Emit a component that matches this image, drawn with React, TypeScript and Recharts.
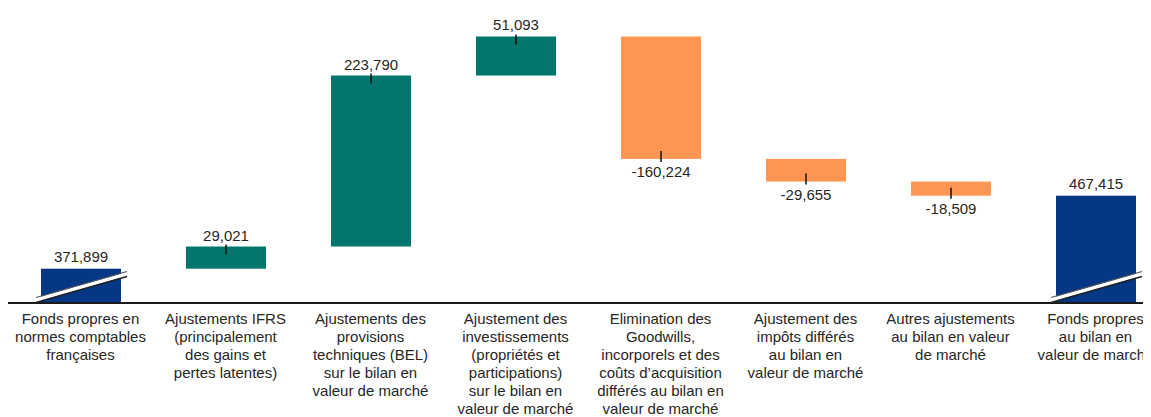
import React from "react";
import { BarChart, Bar, XAxis, YAxis } from "recharts";

// waterfall: totals (first/last) sit on a broken axis, the rest float
const categories = [
  "Fonds propres en\nnormes comptables\nfrançaises",
  "Ajustements IFRS\n(principalement\ndes gains et\npertes latentes)",
  "Ajustements des\nprovisions\ntechniques (BEL)\nsur le bilan en\nvaleur de marché",
  "Ajustement des\ninvestissements\n(propriétés et\nparticipations)\nsur le bilan en\nvaleur de marché",
  "Elimination des\nGoodwills,\nincorporels et des\ncoûts d’acquisition\ndifférés au bilan en\nvaleur de marché",
  "Ajustement des\nimpôts différés\nau bilan en\nvaleur de marché",
  "Autres ajustements\nau bilan en valeur\nde marché",
  "Fonds propres\nau bilan en\nvaleur de marché",
];
const values = [371899, 29021, 223790, 51093, -160224, -29655, -18509, 467415];
const kinds = ["total", "delta", "delta", "delta", "delta", "delta", "delta", "total"];

const AXIS_MIN = 327000;
const AXIS_MAX = 700000;

const COLORS = { total: "#053884", up: "#00766D", down: "#FF9652" };
const TEXT = "#262626";
const FONT = "Arial, 'Liberation Sans', sans-serif";

const fmt = (v: number) => v.toLocaleString("en-US");

let running = 0;
const data = categories.map((name, i) => {
  const v = values[i];
  let range: [number, number];
  if (kinds[i] === "total") {
    running = v;
    range = [AXIS_MIN, v];
  } else {
    const next = running + v;
    range = [Math.min(running, next), Math.max(running, next)];
    running = next;
  }
  return { name, range, value: v, kind: kinds[i] };
});

function StepShape(props: any) {
  const { x, y, width, height, payload } = props;
  const { kind, value } = payload;
  const top = y;
  const bottom = y + height;
  const cx = x + width / 2;
  const fill = kind === "total" ? COLORS.total : value >= 0 ? COLORS.up : COLORS.down;

  if (kind === "total") {
    // axis break slash near the base
    const x1 = x - 5;
    const x2 = x + width + 6;
    const y1 = bottom - 3;
    const y2 = bottom - 29;
    return (
      <g>
        <rect x={x} y={top} width={width} height={height} fill={fill} />
        <polygon
          points={`${x1},${y1 - 2} ${x2},${y2 - 2} ${x2},${y2 + 2} ${x1},${y1 + 2}`}
          fill="#fff"
        />
        <line x1={x1} y1={y1 - 2.5} x2={x2} y2={y2 - 2.5} stroke="#555" strokeWidth={1.2} />
        <line x1={x1} y1={y1 + 2.5} x2={x2} y2={y2 + 2.5} stroke="#222" strokeWidth={1.4} />
        <text x={cx} y={top - 7} textAnchor="middle" fontSize={15} fontFamily={FONT} fill={TEXT}>
          {fmt(value)}
        </text>
      </g>
    );
  }

  const up = value >= 0;
  return (
    <g>
      <rect x={x} y={top} width={width} height={height} fill={fill} />
      {up ? (
        <line x1={cx} y1={top - 2} x2={cx} y2={top + 8} stroke="#111" strokeWidth={1.5} />
      ) : (
        <line x1={cx} y1={bottom - 8} x2={cx} y2={bottom + 3} stroke="#111" strokeWidth={1.5} />
      )}
      <text
        x={cx}
        y={up ? top - 6 : bottom + 18}
        textAnchor="middle"
        fontSize={15}
        fontFamily={FONT}
        fill={TEXT}
      >
        {fmt(value)}
      </text>
    </g>
  );
}

function CategoryTick(props: any) {
  const { x, y, payload } = props;
  const lines = String(payload.value).split("\n");
  return (
    <text x={x} y={y} textAnchor="middle" fontSize={15} fontFamily={FONT} fill={TEXT}>
      {lines.map((l, i) => (
        <tspan key={i} x={x} dy={i === 0 ? 13 : 18}>
          {l}
        </tspan>
      ))}
    </text>
  );
}

export default function App() {
  return (
    <div style={{ width: 1143, height: 409, overflow: "hidden" }}>
      <BarChart
        width={1160}
        height={409}
        data={data}
        margin={{ top: 10, right: 0, bottom: 0, left: 0 }}
      >
        <XAxis
          dataKey="name"
          interval={0}
          tickLine={false}
          axisLine={{ stroke: "#1a1a1a", strokeWidth: 2 }}
          tick={<CategoryTick />}
          height={114}
        />
        <YAxis hide domain={[AXIS_MIN, AXIS_MAX]} allowDataOverflow />
        <Bar dataKey="range" barSize={80} shape={<StepShape />} isAnimationActive={false} />
      </BarChart>
    </div>
  );
}
